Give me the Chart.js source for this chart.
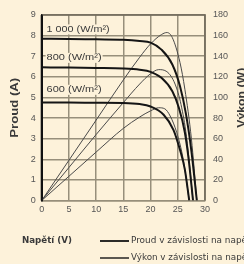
<!DOCTYPE html>
<html lang="cs">
<head>
<meta charset="UTF-8">
<title>Proud a výkon v závislosti na napětí</title>
<script src="https://cdn.jsdelivr.net/npm/chart.js@4.4.0/dist/chart.umd.min.js"></script>
<style>
    html, body { margin: 0; padding: 0; background: #fdf2da; }
    canvas { display: block; }
</style>
</head>
<body>
<canvas id="pvChart" width="244" height="264"></canvas>
<script>
    // I-V curves (A)
    const voltage1000 = [0, 5, 10, 15, 18, 20, 22, 24, 25.4, 26.5, 27.5, 28.5];
    const current1000 = [7.85, 7.84, 7.82, 7.8, 7.74, 7.66, 7.32, 6.6, 5.55, 4.2, 2.4, 0];
    const voltage800 = [0, 5, 10, 15, 18, 20, 22, 24, 25.2, 26.3, 27, 27.8];
    const current800 = [6.46, 6.45, 6.43, 6.4, 6.34, 6.24, 5.95, 5.3, 4.5, 3.3, 2.0, 0];
    const voltage600 = [0, 5, 10, 15, 18, 20, 22.4, 24.2, 25.4, 26.3, 27.1];
    const current600 = [4.75, 4.75, 4.74, 4.73, 4.68, 4.56, 4.16, 3.43, 2.46, 1.5, 0];

    // P-V curves (W)
    const powerVoltage1000 = [0, 5, 10, 15, 18, 20, 22, 23, 24, 25.4, 26.3, 27.5, 28.5];
    const power1000 = [0, 39, 78, 117, 139, 152, 161, 163, 158, 134, 108, 60, 0];
    const powerVoltage800 = [0, 5, 10, 15, 18, 20, 21.5, 23, 24.5, 25.6, 26.6, 27.8];
    const power800 = [0, 32, 64, 95, 113, 123, 127, 125, 113, 93, 62, 0];
    const powerVoltage600 = [0, 5, 10, 15, 18, 20, 21.5, 22.6, 23.6, 24.8, 26, 27.1];
    const power600 = [0, 23.5, 47, 70, 81, 87, 90, 89, 82, 66, 40, 0];

    const irradianceLabels = ['1 000 (W/m²)', '800 (W/m²)', '600 (W/m²)'];
    const irradianceLabelCurrent = [8.3, 6.92, 5.37];
    const legendLabels = ['Proud v závislosti na napětí', 'Výkon v závislosti na napětí'];

    const BG = '#fdf2da';
    const GRID = '#978f7b';
    const TEXT = '#3a3a3a';

    function pairs(xs, ys) {
        return xs.map((x, i) => ({ x: x, y: ys[i] }));
    }

    function ivSet(xs, ys) {
        return { data: pairs(xs, ys), yAxisID: 'y', borderColor: '#151515', borderWidth: 2,
            pointRadius: 0, cubicInterpolationMode: 'monotone', fill: false };
    }
    function pvSet(xs, ys) {
        return { data: pairs(xs, ys), yAxisID: 'y1', borderColor: '#4a4a4a', borderWidth: 1,
            pointRadius: 0, cubicInterpolationMode: 'monotone', fill: false };
    }

    // text squeezed / stretched to a given width
    function fitText(ctx, text, x, y, width) {
        const w = ctx.measureText(text).width;
        ctx.save();
        ctx.translate(x, y);
        ctx.scale(width / w, 1);
        ctx.fillText(text, 0, 0);
        ctx.restore();
    }

    const extras = {
        id: 'extras',
        beforeDraw(chart) {
            const ctx = chart.ctx;
            ctx.save();
            ctx.fillStyle = BG;
            ctx.fillRect(0, 0, chart.width, chart.height);
            ctx.restore();
        },
        afterDatasetsDraw(chart) {
            const ctx = chart.ctx;
            const a = chart.chartArea;
            const xs = chart.scales.x, ys = chart.scales.y;
            ctx.save();
            // frame: grey top / right, black left
            ctx.strokeStyle = '#6f685a';
            ctx.lineWidth = 1.5;
            ctx.beginPath();
            ctx.moveTo(a.left, a.top);
            ctx.lineTo(a.right, a.top);
            ctx.lineTo(a.right, a.bottom);
            ctx.stroke();
            ctx.strokeStyle = '#111';
            ctx.lineWidth = 2;
            ctx.beginPath();
            ctx.moveTo(a.left, a.top);
            ctx.lineTo(a.left, a.bottom);
            ctx.stroke();

            // irradiance labels
            ctx.font = '9px "Liberation Sans", Arial, sans-serif';
            ctx.textBaseline = 'middle';
            const widths = [63, 55, 55];
            irradianceLabels.forEach((t, i) => {
                const px = xs.getPixelForValue(0.9);
                const py = ys.getPixelForValue(irradianceLabelCurrent[i]);
                ctx.fillStyle = BG;
                ctx.fillRect(px - 1, py - 5, widths[i] + 2, 10);
                ctx.fillStyle = TEXT;
                fitText(ctx, t, px, py, widths[i]);
            });
            ctx.restore();
        },
        afterDraw(chart) {
            const ctx = chart.ctx;
            const a = chart.chartArea;
            const mid = (a.top + a.bottom) / 2;
            ctx.save();
            ctx.fillStyle = TEXT;
            ctx.textBaseline = 'middle';
            ctx.font = 'bold 10px "Liberation Sans", Arial, sans-serif';
            // axis titles
            ctx.save();
            ctx.translate(15, mid);
            ctx.rotate(-Math.PI / 2);
            fitText(ctx, 'Proud (A)', -30, 0, 60);
            ctx.restore();
            ctx.save();
            ctx.translate(242, mid - 10);
            ctx.rotate(-Math.PI / 2);
            fitText(ctx, 'Výkon (W)', -30, 0, 60);
            ctx.restore();

            // x title and legend
            ctx.font = 'bold 9px "Liberation Sans Narrow", "DejaVu Sans Condensed", sans-serif';
            fitText(ctx, 'Napětí (V)', 22, 241, 50);
            ctx.strokeStyle = '#151515';
            ctx.lineWidth = 1.8;
            ctx.beginPath();
            ctx.moveTo(100, 241); ctx.lineTo(129, 241);
            ctx.stroke();
            ctx.lineWidth = 1.4;
            ctx.beginPath();
            ctx.moveTo(100, 258); ctx.lineTo(129, 258);
            ctx.stroke();
            ctx.font = '8px "Liberation Sans Narrow", "DejaVu Sans Condensed", sans-serif';
            fitText(ctx, legendLabels[0], 131, 241, 122);
            fitText(ctx, legendLabels[1], 131, 258, 122);
            ctx.restore();
        }
    };

    const tickFont = { family: '"Liberation Sans", Arial, sans-serif', size: 9 };

    new Chart(document.getElementById('pvChart'), {
        type: 'line',
        data: {
            datasets: [
                ivSet(voltage1000, current1000),
                ivSet(voltage800, current800),
                ivSet(voltage600, current600),
                pvSet(powerVoltage1000, power1000),
                pvSet(powerVoltage800, power800),
                pvSet(powerVoltage600, power600)
            ]
        },
        options: {
            responsive: false,
            animation: false,
            devicePixelRatio: 1,
            layout: { padding: { top: 15, left: 0, right: 0, bottom: 0 } },
            plugins: { legend: { display: false }, tooltip: { enabled: false } },
            scales: {
                x: {
                    type: 'linear', min: 0, max: 30,
                    ticks: { stepSize: 5, padding: 4, color: '#555', font: tickFont, maxRotation: 0 },
                    grid: { color: GRID, lineWidth: 1.5, drawTicks: false },
                    border: { color: GRID, width: 1.5 },
                    afterFit(s) { s.height = 63.5; }
                },
                y: {
                    position: 'left', min: 0, max: 9,
                    ticks: { stepSize: 1, padding: 6, color: '#555', font: tickFont },
                    grid: { color: GRID, lineWidth: 1.5, drawTicks: false },
                    border: { color: '#111', width: 2 },
                    afterFit(s) { s.width = 41.7; }
                },
                y1: {
                    position: 'right', min: 0, max: 180,
                    ticks: { stepSize: 20, padding: 8, color: '#555', font: tickFont },
                    grid: { display: false, drawTicks: false },
                    border: { color: GRID, width: 1.5 },
                    afterFit(s) { s.width = 39; }
                }
            }
        },
        plugins: [extras]
    });
</script>
</body>
</html>
